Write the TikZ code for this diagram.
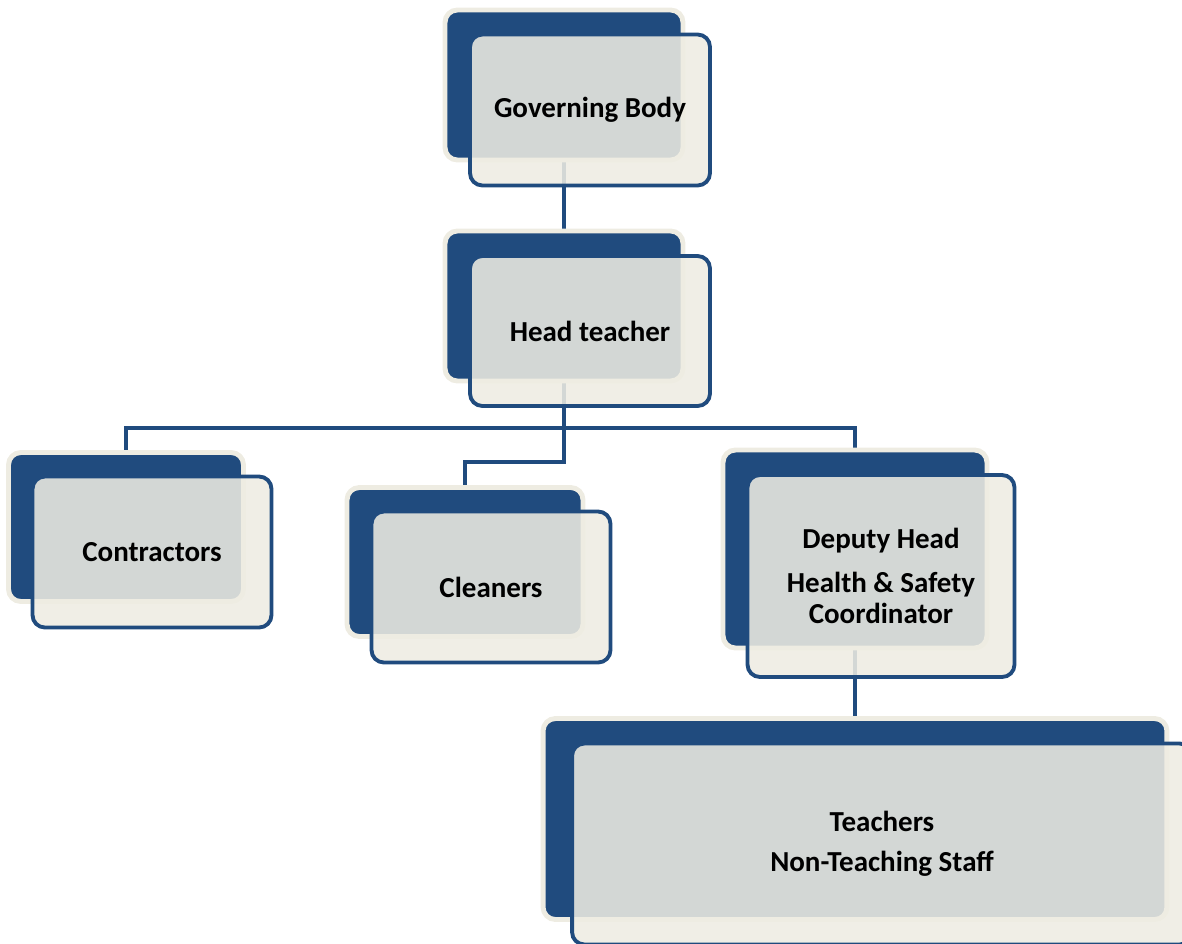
\documentclass[tikz,border=0pt]{standalone}
\usepackage{fontspec}
\setmainfont{Carlito}
\usepackage{tikz}
\usetikzlibrary{positioning,backgrounds}
\definecolor{chartblue}{RGB}{32,75,126}
\definecolor{chartcream}{RGB}{238,236,226}

\begin{document}
\begin{tikzpicture}[x=0.02cm,y=-0.02cm,
    backbox/.style={rectangle,rounded corners=7pt,fill=chartblue,draw=chartcream,line width=2.8pt},
    frontbox/.style={rectangle,rounded corners=7pt,fill=chartcream,fill opacity=0.87,
        text opacity=1,draw=chartblue,draw opacity=1,line width=2.2pt,align=center,
        font=\fontsize{16.5}{18}\selectfont\bfseries},
    link/.style={chartblue,line width=2.3pt}]
\useasboundingbox (0,0) rectangle (1182,943);

% Back panels
\node[backbox,minimum width=4.76cm,minimum height=3cm] (gbB) at (564,85) {};
\node[backbox,minimum width=4.76cm,minimum height=3cm] (htB) at (564,306) {};
\node[backbox,minimum width=4.7cm,minimum height=2.98cm] (conB) at (126,527) {};
\node[backbox,minimum width=4.72cm,minimum height=2.98cm] (clB) at (465,562) {};
\node[backbox,minimum width=5.28cm,minimum height=3.96cm] (depB) at (855,549) {};
\node[backbox,minimum width=12.48cm,minimum height=4.02cm] (teaB) at (855,819) {};

% Connectors (behind the panels)
\begin{scope}[on background layer]
\coordinate (bar) at (564,428);
\coordinate (bend) at (564,462);
\draw[link] (gbB.south) -- (htB.north);
\draw[link] (htB.south) -- (bend) -| (clB.north);
\draw[link] (conB.north) |- (bar) -| (depB.north);
\draw[link] (depB.south) -- (teaB.north);
\end{scope}

% Front panels
\node[frontbox,minimum width=4.8cm,minimum height=3.02cm] (gb) at (590,110) {Governing Body};
\node[frontbox,minimum width=4.8cm,minimum height=3cm] (ht) at (590,331) {Head teacher};
\node[frontbox,minimum width=4.78cm,minimum height=3.02cm] (con) at (152,552) {Contractors};
\node[frontbox,minimum width=4.78cm,minimum height=3.02cm] (cl) at (491,587) {Cleaners};
\node[frontbox,minimum width=5.34cm,minimum height=4.04cm] (dep) at (881,576)
    {Deputy Head\\[7pt]Health \& Safety\\Coordinator};
\node[frontbox,minimum width=12.4cm,minimum height=4.02cm] (tea) at (882,844)
    {Teachers\\[5pt]Non-Teaching Staff};
\end{tikzpicture}
\end{document}
